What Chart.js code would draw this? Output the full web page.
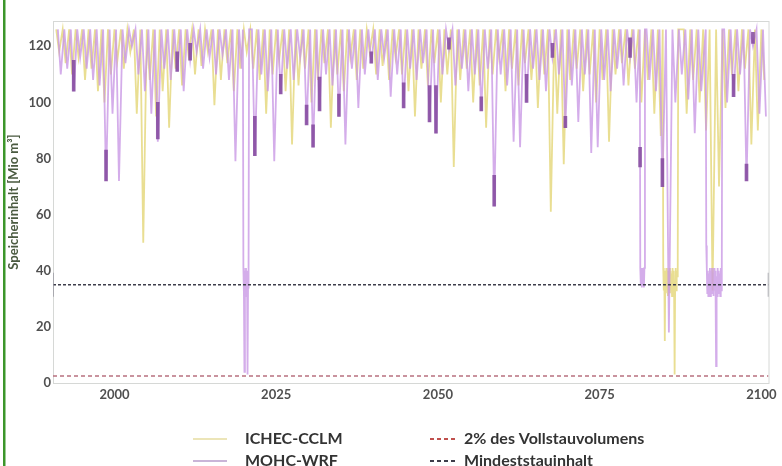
<!DOCTYPE html>
<html>
<head>
<meta charset="utf-8">
<script src="https://cdn.jsdelivr.net/npm/chart.js@4"></script>
<style>
  html, body { margin: 0; padding: 0; background: #fff; }
  #wrap { width: 782px; height: 466px; position: relative; }
</style>
</head>
<body>
<div id="wrap"><canvas id="myChart" width="782" height="466"></canvas></div>
<script>
// yearly storage minimum per scenario [Mio m3], 1991..2100 (null = multi-point episode below)
const firstYear = 1991;
const fullLevel = 126;
const ichecTroughs = [
  118, 114, 110, 116, 108, 112, 104, 100, 110, 115, // 1991-2000
  112, 118, 96, 50, 108, 95, 104, 91, 112, 106,     // 2001-2010
  117, 110, 113, 118, 99, 108, 114, 104, 112, 118,  // 2011-2020
  112, 108, 96, 110, 115, 104, 85, 106, 112, 100,   // 2021-2030
  108, 114, 91, 110, 104, 116, 108, 112, 118, 110,  // 2031-2040
  113, 108, 116, 110, 104, 95, 112, 106, 114, 100,  // 2041-2050
  110, 77, 108, 112, 100, 106, 91, 110, 116, 104,   // 2051-2060
  112, 106, 114, 108, 98, 110, 61, 96, 78, 108,     // 2061-2070
  112, 104, 110, 100, 108, 86, 110, 114, 106, 112,  // 2071-2080
  100, 108, 96, 88, null, null, null, 96, 108, 100, // 2081-2090
  90, 33, 70, 98, 110, 104, 112, 85, 90, 108        // 2091-2100
];
const mohcTroughs = [
  110, 112, 104, 116, 112, 108, 106, 72, 96, 72,    // 1991-2000
  114, 120, 110, 104, 96, 86, 112, 108, 111, 104,   // 2001-2010
  115, 118, 112, 116, 110, 117, 108, 79, 112, null, // 2011-2020
  81, 110, 104, 79, 103, 112, 108, 116, 92, 84,     // 2021-2030
  97, 110, 106, 95, 85, 112, 98, 110, 114, 108,     // 2031-2040
  116, 102, 110, 98, 112, 108, 114, 93, 89, 110,    // 2041-2050
  119, 106, 112, 104, 110, 97, 112, 63, 110, 106,   // 2051-2060
  86, 84, 100, 112, 108, 104, 116, 110, 91, 106,    // 2061-2070
  93, 110, 82, 84, 108, 104, 112, 106, 116, 100,    // 2071-2080
  null, 108, 104, 70, 18, 100, 110, 101, 89, 104,   // 2081-2090
  null, null, null, 100, 102, 110, 72, 120, 96, 95  // 2091-2100
];

// dense drawdown episodes around the minimum level (step 0.08 years)
const episodeStep = 0.08;
const ichecLow2085 = [126, 41, 33, 40, 15, 38, 32, 41, 34, 40, 31, 39, 33, 41, 32, 40,
  34, 39, 31, 41, 33, 40, 32, 3, 36, 41, 33, 40, 38, 41, 126];
const mohcLow2020 = [126, 41, 32, 4, 40, 31, 41, 33, 40, 3, 34, 41, 126];
const mohcLow2081 = [126, 41, 35, 40, 34, 41, 35, 40, 34, 41, 126];
const mohcLow2091 = [126, 49, 41, 32, 40, 31, 39, 33, 41, 31, 40, 34, 41, 32, 39, 31, 41,
  33, 40, 32, 6, 38, 31, 41, 33, 40, 32, 39, 31, 41, 33, 40, 126];

// darker overlapping stretches near the trough bottoms: [year, low, high]
const darkMarks = [
  [1993.7, 104, 115], [1998.7, 72, 83], [2006.7, 87, 100], [2009.7, 111, 118],
  [2011.7, 115, 121], [2021.7, 81, 95], [2025.7, 103, 110], [2029.7, 92, 99],
  [2030.7, 84, 92], [2031.7, 97, 109], [2034.7, 95, 103], [2039.7, 114, 118],
  [2044.7, 98, 107], [2048.7, 93, 106], [2049.7, 89, 106], [2051.7, 119, 123],
  [2056.7, 97, 102], [2058.7, 63, 74], [2063.7, 100, 110], [2067.7, 116, 121],
  [2069.7, 91, 95], [2079.7, 116, 123], [2081.25, 77, 84], [2084.7, 70, 80],
  [2095.7, 102, 110], [2097.7, 72, 78], [2098.7, 121, 125]
];

const minLevel = 35;      // Mindeststauinhalt
const twoPercent = 2.5;   // 2% des Vollstauvolumens
const xMin = 1990.5;
const xMax = 2101.1;
const xTicks = [2000, 2025, 2050, 2075, 2100];
const yTicks = [0, 20, 40, 60, 80, 100, 120];

function buildSeries(troughs, topOffset, lowOffset, episodes) {
  const points = [];
  troughs.forEach((low, i) => {
    const year = firstYear + i;
    if (low === null) {
      const ep = episodes.find(e => e.year === year);
      if (ep) ep.values.forEach((v, k) => points.push({ x: ep.start + k * episodeStep, y: v }));
      return;
    }
    points.push({ x: year + topOffset, y: fullLevel });
    points.push({ x: year + lowOffset, y: low });
  });
  return points;
}

const ichecData = buildSeries(ichecTroughs, 0, 0.45, [
  { year: 2085, start: 2084.75, values: ichecLow2085 }
]);
const mohcData = buildSeries(mohcTroughs, 0.25, 0.7, [
  { year: 2020, start: 2019.85, values: mohcLow2020 },
  { year: 2081, start: 2081.2, values: mohcLow2081 },
  { year: 2091, start: 2091.4, values: mohcLow2091 }
]);

Chart.defaults.font.family = "Lato";

// white page, green left rule, plot frame and the two-column legend
const frame = {
  id: "frame",
  beforeDraw(chart) {
    const { ctx } = chart;
    ctx.save();
    ctx.fillStyle = "#fff";
    ctx.fillRect(0, 0, chart.width, chart.height);
    ctx.fillStyle = "#3c962a";
    ctx.fillRect(3, 0, 2.5, chart.height);
    ctx.restore();
  },
  beforeDatasetsDraw(chart) {
    const { ctx, chartArea: a } = chart;
    ctx.save();
    ctx.strokeStyle = "#d6d8d6";
    ctx.lineWidth = 1;
    ctx.strokeRect(a.left + 0.5, a.top + 0.5, a.right - a.left, a.bottom - a.top);
    ctx.restore();
  },
  afterDraw(chart) {
    const { ctx } = chart;
    const ds = chart.data.datasets;
    const items = [
      { d: ds[0], x: 193, y: 439 },
      { d: ds[1], x: 193, y: 461 },
      { d: ds[3], x: 430, y: 439 },
      { d: ds[4], x: 430, y: 461 }
    ];
    ctx.save();
    items.forEach(({ d, x, y }) => {
      const len = d.borderDash.length ? 28 : 34;
      ctx.strokeStyle = d.legendColor || d.borderColor;
      ctx.lineWidth = 2;
      ctx.setLineDash(d.borderDash.length ? [4, 3] : []);
      ctx.beginPath();
      ctx.moveTo(x, y);
      ctx.lineTo(x + len, y);
      ctx.stroke();
      ctx.setLineDash([]);
      ctx.fillStyle = "#333";
      ctx.font = "700 16px Lato";
      ctx.textBaseline = "middle";
      ctx.fillText(d.label, d.borderDash.length ? x + 34 : x + 52, y);
    });
    ctx.restore();
  }
};

const ctx = document.getElementById("myChart").getContext("2d");
new Chart(ctx, {
  type: "line",
  data: {
    datasets: [
      {
        label: "ICHEC-CCLM",
        data: ichecData,
        borderColor: "rgba(232,220,140,0.95)",
        legendColor: "#ece5b8",
        borderWidth: 1.8,
        borderDash: [],
        pointRadius: 0,
        order: 5
      },
      {
        label: "MOHC-WRF",
        data: mohcData,
        borderColor: "rgba(200,150,228,0.78)",
        legendColor: "#c9b5d8",
        borderWidth: 1.8,
        borderDash: [],
        pointRadius: 0,
        order: 4
      },
      {
        type: "bar",
        label: "",
        data: darkMarks.map(([x, lo, hi]) => ({ x, y: [lo, hi] })),
        backgroundColor: "rgba(130,72,158,0.85)",
        barThickness: 3,
        grouped: false,
        order: 3
      },
      {
        label: "2% des Vollstauvolumens",
        data: [{ x: xMin, y: twoPercent }, { x: xMax, y: twoPercent }],
        borderColor: "#b8707f",
        legendColor: "#c0504d",
        borderWidth: 1.5,
        borderDash: [4, 3],
        pointRadius: 0,
        order: 2
      },
      {
        label: "Mindeststauinhalt",
        data: [{ x: xMin, y: minLevel }, { x: xMax, y: minLevel }],
        borderColor: "#3d3d4a",
        borderWidth: 1.5,
        borderDash: [3, 2],
        pointStyle: "line",
        rotation: 90,
        pointRadius: 12,
        pointBorderColor: "#9a9aa2",
        pointBorderWidth: 1.5,
        order: 1
      }
    ]
  },
  options: {
    responsive: false,
    animation: false,
    events: [],
    layout: { padding: { left: 6, top: 21, right: 7, bottom: 0 } },
    plugins: { legend: { display: false }, tooltip: { enabled: false } },
    scales: {
      x: {
        type: "linear",
        min: xMin,
        max: xMax,
        offset: false,
        grid: { display: false, drawTicks: false },
        border: { display: false },
        afterBuildTicks: (s) => { s.ticks = xTicks.map(v => ({ value: v })); },
        afterFit: (s) => { s.height = 83; },
        ticks: {
          autoSkip: false,
          maxRotation: 0,
          padding: 4,
          color: "#505050",
          font: { size: 13, weight: "bold" },
          callback: (v) => String(v)
        }
      },
      y: {
        min: 0,
        max: 129,
        grid: { display: false, drawTicks: false },
        border: { display: false },
        afterBuildTicks: (s) => { s.ticks = yTicks.map(v => ({ value: v })); },
        afterFit: (s) => { s.width = 47; },
        ticks: {
          padding: 2,
          color: "#505050",
          font: { size: 13, weight: "bold" }
        },
        title: {
          display: true,
          text: "Speicherinhalt [Mio m³]",
          color: "#4a5a40",
          padding: { top: 0, bottom: 0 },
          font: { size: 13, weight: "bold" }
        }
      }
    }
  },
  plugins: [frame]
});
</script>
</body>
</html>
